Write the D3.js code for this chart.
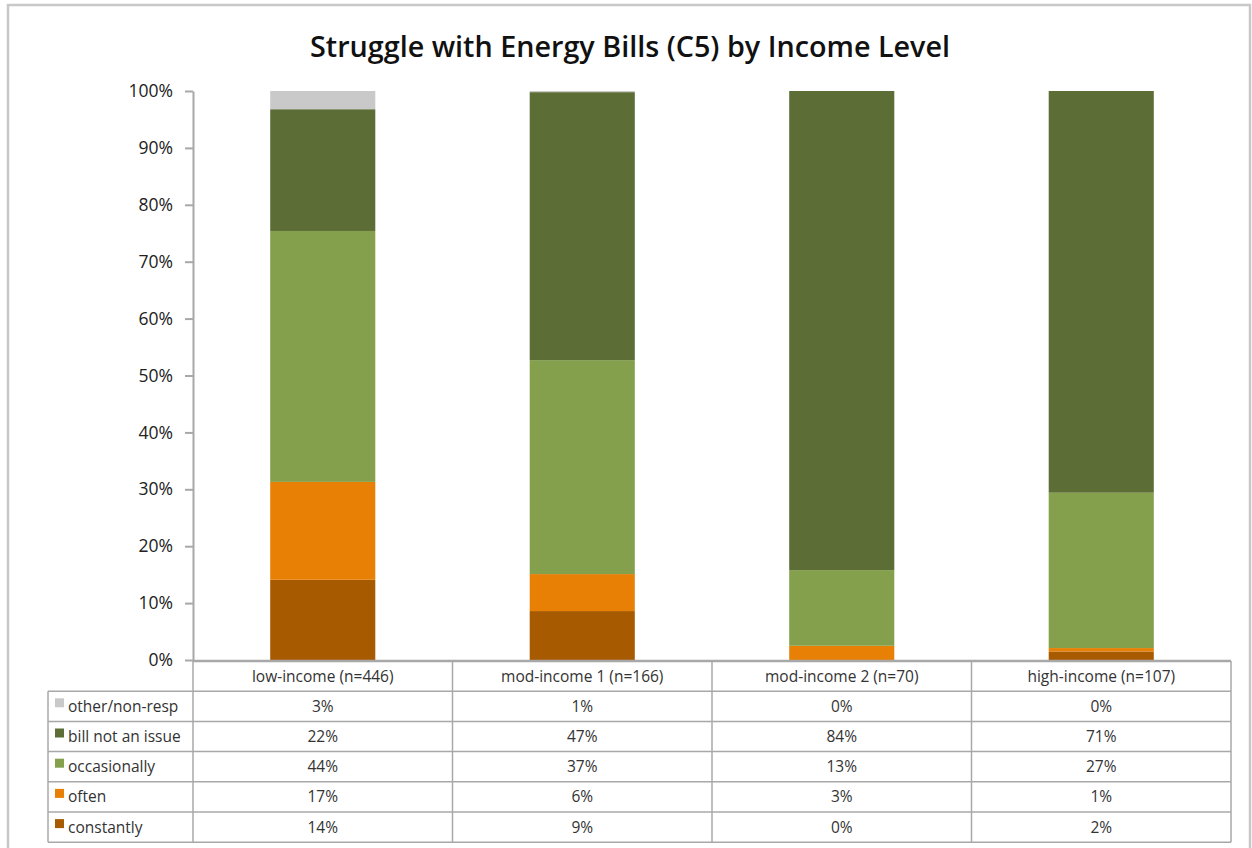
<!DOCTYPE html>
<html><head><meta charset="utf-8">
<script src="https://cdn.jsdelivr.net/npm/d3@7"></script>
<style>body{margin:0;background:#fff;} svg{display:block}</style></head>
<body><svg id="c" width="1252" height="848"></svg>
<script>
// ---- data ----
const categories = ["low-income (n=446)", "mod-income 1 (n=166)", "mod-income 2 (n=70)", "high-income (n=107)"];
const seriesNames = ["constantly", "often", "occasionally", "bill not an issue", "other/non-resp"];
// bar segment heights (percent)
const constantly     = [14.1, 8.6, 0.0, 1.5];
const often          = [17.2, 6.5, 2.5, 0.6];
const occasionally   = [44.1, 37.6, 13.3, 27.3];
const billNotAnIssue = [21.4, 47.1, 84.2, 70.6];
const otherNonResp   = [3.2, 0.2, 0.0, 0.0];
// data table labels as printed
const lblConstantly     = ["14%", "9%", "0%", "2%"];
const lblOften          = ["17%", "6%", "3%", "1%"];
const lblOccasionally   = ["44%", "37%", "13%", "27%"];
const lblBillNotAnIssue = ["22%", "47%", "84%", "71%"];
const lblOtherNonResp   = ["3%", "1%", "0%", "0%"];
const yTicks = [0, 10, 20, 30, 40, 50, 60, 70, 80, 90, 100];
const colors = ["#a85a00", "#e88006", "#84a04c", "#5c6e35", "#c9c9c9"];
const title = "Struggle with Energy Bills (C5) by Income Level";

// ---- build ----
const seriesValues = [constantly, often, occasionally, billNotAnIssue, otherNonResp];
const seriesLabels = [lblConstantly, lblOften, lblOccasionally, lblBillNotAnIssue, lblOtherNonResp];
const rows = categories.map((c, i) => {
  const r = {cat: c};
  seriesNames.forEach((s, j) => r[s] = seriesValues[j][i]);
  return r;
});
const stack = d3.stack().keys(seriesNames)(rows);

const svg = d3.select("#c");
const L = 193, R = 1231, T = 91, B = 660;
const x = d3.scaleBand().domain(categories).range([L, R]).padding(0);
const y = d3.scaleLinear().domain([0, 100]).range([B, T]);
const color = d3.scaleOrdinal().domain(seriesNames).range(colors);
const font = "'Open Sans', 'Noto Sans', sans-serif";
const tfs = 15.5;

// frame
svg.append("rect").attr("x", 8).attr("y", 5).attr("width", 1242).attr("height", 860)
  .attr("fill", "none").attr("stroke", "#c8c8c8").attr("stroke-width", 2.5);

// title
svg.append("text").attr("x", 630).attr("y", 57).attr("text-anchor", "middle")
  .attr("font-family", font).attr("font-weight", 600).attr("font-size", 28)
  .attr("textLength", 640).attr("lengthAdjust", "spacingAndGlyphs")
  .attr("fill", "#111").text(title);

// bars
const bw = x.bandwidth() * 0.405;
svg.append("g").selectAll("g").data(stack).join("g")
  .attr("fill", d => color(d.key))
  .selectAll("rect").data(d => d).join("rect")
  .attr("x", d => x(d.data.cat) + (x.bandwidth() - bw) / 2)
  .attr("width", bw)
  .attr("y", d => y(d[1]))
  .attr("height", d => Math.max(0, y(d[0]) - y(d[1])));

// y axis
const yAxis = d3.axisLeft(y).tickValues(yTicks).tickFormat(d => d + "%").tickSize(8).tickPadding(12).tickSizeOuter(0);
const gy = svg.append("g").attr("transform", `translate(${L},0)`).call(yAxis);
gy.select(".domain").attr("stroke", "#a8a8a8").attr("stroke-width", 2);
gy.selectAll(".tick line").attr("stroke", "#a8a8a8").attr("stroke-width", 2);
gy.selectAll(".tick text").attr("font-family", font).attr("font-size", 17.5).attr("fill", "#222");

// baseline
svg.append("line").attr("x1", L).attr("x2", R).attr("y1", B + 1).attr("y2", B + 1)
  .attr("stroke", "#a8a8a8").attr("stroke-width", 2.5);

// data table
const tableLeft = 48, headerTop = 661, rowH = 30.2;
const rowOrder = [4, 3, 2, 1, 0]; // other, bill, occ, often, constantly
const tableBottom = headerTop + rowH * 6;
const grid = svg.append("g").attr("stroke", "#a8a8a8").attr("stroke-width", 1.5);
[L, ...categories.map(c => x(c) + x.bandwidth())].forEach(vx => {
  grid.append("line").attr("x1", vx).attr("x2", vx).attr("y1", headerTop).attr("y2", tableBottom);
});
grid.append("line").attr("x1", tableLeft).attr("x2", tableLeft).attr("y1", headerTop + rowH).attr("y2", tableBottom);
for (let k = 1; k <= 6; k++) {
  grid.append("line").attr("x1", tableLeft).attr("x2", R)
    .attr("y1", headerTop + rowH * k).attr("y2", headerTop + rowH * k);
}
// header labels
svg.append("g").selectAll("text").data(categories).join("text")
  .attr("x", d => x(d) + x.bandwidth() / 2).attr("y", headerTop + rowH / 2 + 5.5)
  .attr("text-anchor", "middle").attr("font-family", font).attr("font-size", tfs)
  .attr("fill", "#333").text(d => d);
// rows
rowOrder.forEach((si, r) => {
  const cy = headerTop + rowH * (r + 1) + rowH / 2;
  svg.append("rect").attr("x", 55).attr("y", cy - 8).attr("width", 9).attr("height", 9)
    .attr("fill", colors[si]);
  svg.append("text").attr("x", 68).attr("y", cy + 5.5).attr("font-family", font)
    .attr("font-size", tfs).attr("fill", "#333").text(seriesNames[si]);
  svg.append("g").selectAll("text").data(seriesLabels[si]).join("text")
    .attr("x", (d, i) => x(categories[i]) + x.bandwidth() / 2).attr("y", cy + 5.5)
    .attr("text-anchor", "middle").attr("font-family", font).attr("font-size", tfs)
    .attr("fill", "#333").text(d => d);
});
</script></body></html>
